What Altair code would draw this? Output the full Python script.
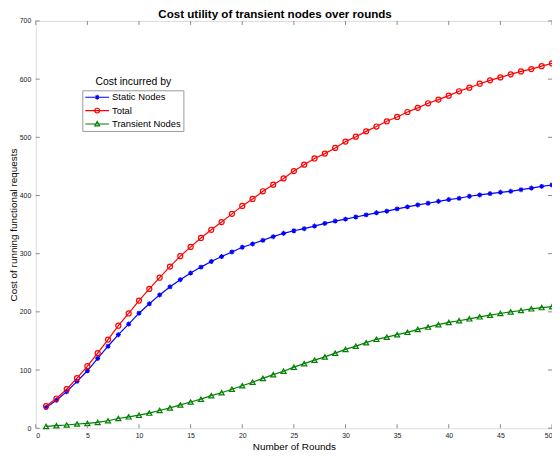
import altair as alt
import pandas as pd

# ---------------- data ----------------
rounds = list(range(1, 51))

static_nodes = [35.5, 48, 62.8, 80.6, 98.7, 119.9, 140.9, 160.8, 179, 197.7,
                213.8, 229.1, 243, 255.3, 266.7, 276.9, 286.5, 295, 303, 311,
                316.7, 323, 329.2, 335, 339.4, 343, 347.4, 352, 356, 359.4,
                363, 366.7, 370.2, 373, 377, 380.4, 383.8, 386.7, 390, 393,
                395.2, 398.7, 400.9, 403.3, 405.5, 407.2, 410, 412.8, 415.7, 418]

total = [38, 51, 67, 86, 106.7, 129, 152.3, 176.2, 197.2, 219.4,
         239.4, 258.7, 277.8, 295.7, 311.6, 327, 341.1, 354.3, 368.4, 382.1,
         394, 407.2, 418.6, 429.4, 441.9, 453, 463.6, 472, 481.8, 492.6,
         501.1, 510.2, 518.5, 527.5, 535, 543.5, 550.6, 558.5, 564.8, 571.6,
         579.1, 585.3, 592.1, 597.9, 603, 608.2, 613.3, 617.2, 622.3, 627]

transient_nodes = [3, 4.3, 5.5, 7.2, 8.3, 10, 12.8, 16.7, 19.6, 22.5,
                   26, 30.5, 35, 40, 45, 50, 56, 61, 67, 73,
                   79, 85.7, 92, 98, 105, 111, 117, 122.6, 129, 135.5,
                   141, 147, 152.8, 156.5, 160.8, 164.8, 169.9, 173.8, 177.9, 181.8,
                   184.7, 188, 191.5, 194.3, 197.2, 200, 202.3, 205.2, 207.4, 209]

series_names = ["Static Nodes", "Total", "Transient Nodes"]
series_colors = ["#0000ff", "#ff0000", "#008000"]

x_ticks = list(range(0, 51, 5))
y_ticks = list(range(0, 701, 100))

chart_title = "Cost utility of transient nodes over rounds"
x_title = "Number of Rounds"
y_title = "Cost of running functional requests"
legend_title = "Cost incurred by"

# ---------------- build tables ----------------
df = pd.DataFrame({
    "round": rounds * 3,
    "value": static_nodes + total + transient_nodes,
    "series": [series_names[0]] * 50 + [series_names[1]] * 50 + [series_names[2]] * 50,
})

FONT = "Liberation Sans"
AXIS_GRAY = "#8a8a8a"
W, H = 521, 411

x_scale = alt.Scale(domain=[0, 50], nice=False, zero=False)
y_scale = alt.Scale(domain=[0, 700], nice=False)
color_scale = alt.Scale(domain=series_names, range=series_colors)

x_axis = alt.Axis(values=x_ticks, ticks=False, tickSize=0, domain=False, grid=False,
                  labelFontSize=7, labelColor="#222222", labelFont=FONT, labelPadding=3,
                  titleFont=FONT, titleFontSize=10, titleFontWeight="normal",
                  titleColor="#000000", titleBaseline="alphabetic", titleY=21)
y_axis = alt.Axis(values=y_ticks, ticks=False, tickSize=0, domain=False, grid=False,
                  labelFontSize=7, labelColor="#222222", labelFont=FONT, labelPadding=5,
                  titleFont=FONT, titleFontSize=10, titleFontWeight="normal",
                  titleColor="#000000", titleBaseline="alphabetic", titleX=-19,
                  titleY=H / 2)
legend = alt.Legend(title=None, orient="none", legendX=47, legendY=70,
                    strokeColor="#9a9a9a", fillColor="#ffffff", padding=2,
                    labelFont=FONT, labelFontSize=9.5, labelColor="#000000", labelOffset=2,
                    symbolSize=576, symbolStrokeWidth=1.2, clipHeight=10, rowPadding=3.5)


def xenc(field):
    return alt.X(field, scale=x_scale, axis=x_axis, title=x_title)


def yenc(field):
    return alt.Y(field, scale=y_scale, axis=y_axis, title=y_title)


COLOR = alt.Color("series:N", scale=color_scale, legend=legend)

lines = alt.Chart(df).mark_line(strokeWidth=1.2).encode(
    x=xenc("round:Q"), y=yenc("value:Q"), color=COLOR,
)

star_path = "M-1,0H1M0,-1V1M-0.7,-0.7L0.7,0.7M-0.7,0.7L0.7,-0.7"
marker_shapes = [star_path, "circle", "triangle-up"]
marker_sizes = [25, 26, 26]

marker_layers = []
for name, shp, sz in zip(series_names, marker_shapes, marker_sizes):
    marker_layers.append(
        alt.Chart(df).transform_filter(alt.datum.series == name)
        .mark_point(shape=shp, size=sz, filled=False, strokeWidth=1.2, opacity=1)
        .encode(x=xenc("round:Q"), y=yenc("value:Q"), color=COLOR)
    )

# legend symbols: a line with the marker in its middle
legend_paths = [
    "M-1,0H1M-0.2,0H0.2M0,-0.2V0.2M-0.14,-0.14L0.14,0.14M-0.14,0.14L0.14,-0.14",
    "M-1,0H1M-0.2,0A0.2,0.2 0 1,0 0.2,0A0.2,0.2 0 1,0 -0.2,0",
    "M-1,0H1M0,-0.22L0.2,0.15L-0.2,0.15Z",
]

legend_layer = (
    alt.Chart(df).transform_filter("datum.round < 0")
    .mark_point(filled=False, size=576, strokeWidth=1.2)
    .encode(
        x=xenc("round:Q"), y=yenc("value:Q"), color=COLOR,
        shape=alt.Shape("series:N", scale=alt.Scale(domain=series_names, range=legend_paths),
                        legend=legend),
    )
)

text_table = pd.DataFrame({"t": [legend_title, chart_title], "kind": ["legend", "title"]})

legend_title_layer = alt.Chart(text_table).transform_filter(
    alt.datum.kind == "legend"
).mark_text(
    font=FONT, fontSize=10.5, align="center", baseline="alphabetic", color="#000000"
).encode(text="t:N", x=alt.value(98.5), y=alt.value(64.5))

chart_title_layer = alt.Chart(text_table).transform_filter(
    alt.datum.kind == "title"
).mark_text(
    font=FONT, fontSize=11.7, fontWeight="bold", align="center", baseline="alphabetic",
    color="#000000"
).encode(text="t:N", x=alt.value(241.5), y=alt.value(-2.5))

# inward tick marks on all four sides
xt = alt.Chart(pd.DataFrame({"v": x_ticks}))
yt = alt.Chart(pd.DataFrame({"v": y_ticks}))
bottom_ticks = xt.mark_rule(color=AXIS_GRAY, strokeWidth=1).encode(
    x=xenc("v:Q"), y=alt.value(H), y2=alt.value(H - 4))
top_ticks = xt.mark_rule(color=AXIS_GRAY, strokeWidth=1).encode(
    x=xenc("v:Q"), y=alt.value(0), y2=alt.value(4))
left_ticks = yt.mark_rule(color=AXIS_GRAY, strokeWidth=1).encode(
    y=yenc("v:Q"), x=alt.value(0), x2=alt.value(4))
right_ticks = yt.mark_rule(color=AXIS_GRAY, strokeWidth=1).encode(
    y=yenc("v:Q"), x=alt.value(W), x2=alt.value(W - 4))

chart = alt.layer(
    lines, *marker_layers, legend_layer,
    bottom_ticks, top_ticks, left_ticks, right_ticks,
    legend_title_layer, chart_title_layer,
).properties(
    width=W, height=H,
    padding={"left": 28, "top": 11, "right": 0, "bottom": 28},
    autosize=alt.AutoSizeParams(type="none"),
).configure_view(
    stroke=AXIS_GRAY, strokeWidth=1
).configure(background="#ffffff")

chart.save("out.html", embed_options={"renderer": "svg", "actions": False})
